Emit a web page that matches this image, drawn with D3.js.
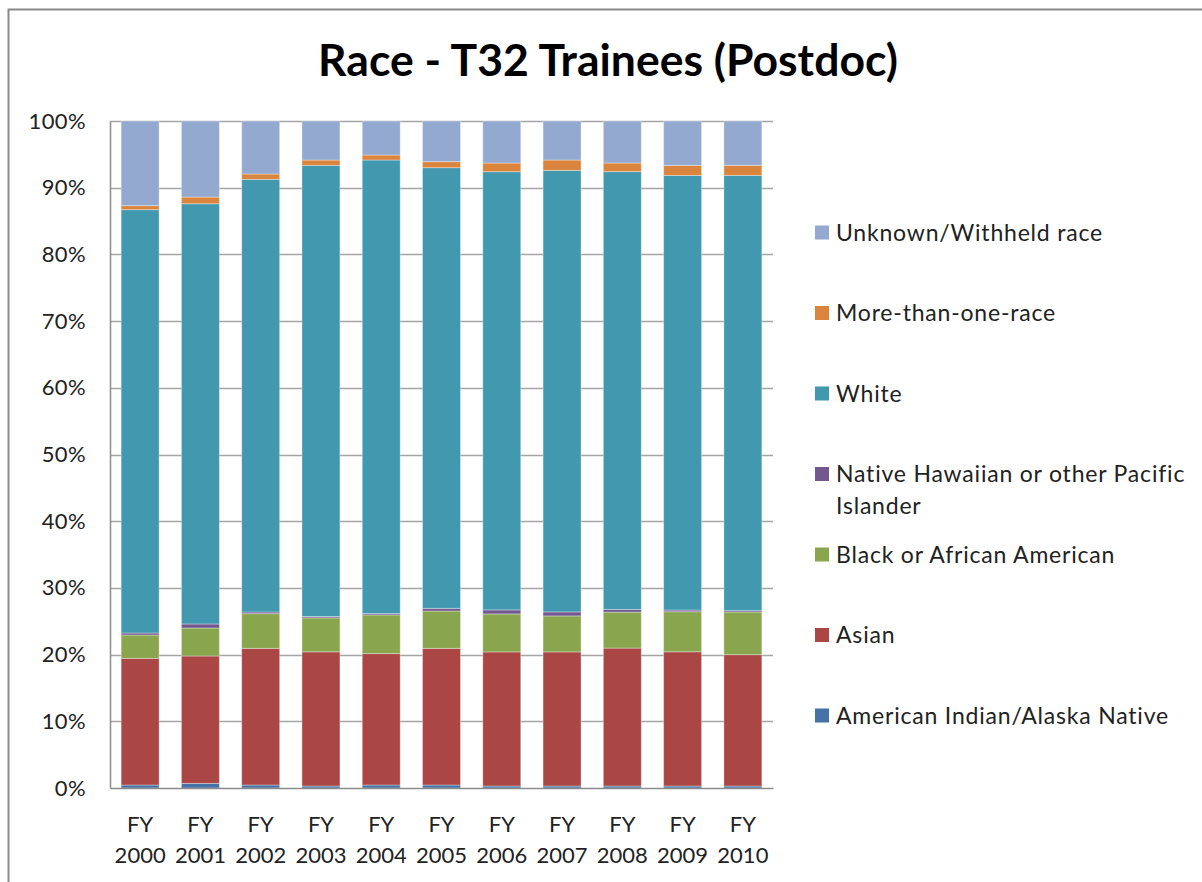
<!DOCTYPE html>
<html>
<head>
<meta charset="utf-8">
<script src="https://cdn.jsdelivr.net/npm/d3@7/dist/d3.min.js"></script>
<style>
  html, body { margin: 0; padding: 0; background: #fff; }
  svg { display: block; font-family: "Lato", "Open Sans", sans-serif; }
</style>
</head>
<body>
<svg id="chart" width="1202" height="882"></svg>
<script>
// Fiscal years on the x axis
const years = ["2000", "2001", "2002", "2003", "2004", "2005", "2006", "2007", "2008", "2009", "2010"];

// Share of postdoctoral T32 trainees by race (percent), bottom to top of each bar
const americanIndian = [0.45, 0.69, 0.45, 0.3, 0.45, 0.45, 0.3, 0.3, 0.3, 0.3, 0.3];
const asian          = [19.0, 19.1, 20.5, 20.1, 19.7, 20.5, 20.1, 20.1, 20.7, 20.1, 19.7];
const black          = [3.5, 4.2, 5.2, 5.1, 5.8, 5.6, 5.7, 5.4, 5.4, 6.0, 6.4];
const nativeHawaiian = [0.3, 0.6, 0.25, 0.2, 0.2, 0.4, 0.6, 0.6, 0.4, 0.25, 0.2];
const white          = [63.5, 63.0, 64.9, 67.6, 68.0, 66.1, 65.7, 66.2, 65.7, 65.1, 65.3];
const multiRace      = [0.6, 1.0, 0.8, 0.8, 0.75, 0.9, 1.3, 1.55, 1.3, 1.5, 1.5];
const unknownRace    = [12.7, 11.4, 7.95, 5.85, 5.1, 6.1, 6.3, 5.85, 6.3, 6.65, 6.65];

const seriesNames = [
  "American Indian/Alaska Native",
  "Asian",
  "Black or African American",
  "Native Hawaiian or other Pacific Islander",
  "White",
  "More-than-one-race",
  "Unknown/Withheld race"
];
const seriesValues = [americanIndian, asian, black, nativeHawaiian, white, multiRace, unknownRace];
const seriesColors = ["#4572A7", "#AA4643", "#89A54E", "#71588F", "#4198AF", "#DB843D", "#93A9CF"];

const yTicks = [0, 0.1, 0.2, 0.3, 0.4, 0.5, 0.6, 0.7, 0.8, 0.9, 1.0];

// Rows for d3.stack
const rows = years.map((yr, i) => {
  const r = { year: yr };
  seriesNames.forEach((n, k) => { r[n] = seriesValues[k][i]; });
  return r;
});

const svg = d3.select("#chart");

// Outer chart frame
svg.append("rect")
  .attr("x", 8.5).attr("y", 9.5)
  .attr("width", 1210).attr("height", 890)
  .attr("fill", "#fff")
  .attr("stroke", "#8a8a8a").attr("stroke-width", 2);

// Title
svg.append("text")
  .attr("x", 608).attr("y", 76)
  .attr("text-anchor", "middle")
  .attr("font-size", 44.5).attr("font-weight", 700)
  .attr("fill", "#000")
  .text("Race - T32 Trainees (Postdoc)");

const plot = { left: 110, right: 773, top: 121, bottom: 788 };

const x = d3.scaleBand()
  .domain(years)
  .range([plot.left, plot.right])
  .paddingInner(0.37)
  .paddingOuter(0.185);

const y = d3.scaleLinear().domain([0, 1]).range([plot.bottom, plot.top]);

// Horizontal gridlines
svg.append("g")
  .selectAll("line")
  .data(yTicks.filter(t => t > 0))
  .join("line")
  .attr("x1", plot.left).attr("x2", plot.right)
  .attr("y1", d => Math.round(y(d)) + 0.5).attr("y2", d => Math.round(y(d)) + 0.5)
  .attr("stroke", "#a5a5a5").attr("stroke-width", 1.5);

// Stacked bars, normalised to 100%
const stacked = d3.stack()
  .keys(seriesNames)
  .offset(d3.stackOffsetExpand)(rows);

svg.append("g")
  .selectAll("g")
  .data(stacked)
  .join("g")
  .attr("fill", (d, i) => seriesColors[i])
  .selectAll("rect")
  .data(d => d)
  .join("rect")
  .attr("x", d => x(d.data.year))
  .attr("width", x.bandwidth())
  .attr("y", d => y(d[1]))
  .attr("height", d => y(d[0]) - y(d[1]))
  .attr("stroke", "rgba(255,255,255,0.35)")
  .attr("stroke-width", 1);

// Y axis
const yAxis = d3.axisLeft(y)
  .tickValues(yTicks)
  .tickFormat(d3.format(".0%"))
  .tickSize(0)
  .tickPadding(24);

const yg = svg.append("g")
  .attr("transform", `translate(${plot.left},0)`)
  .call(yAxis);
yg.select(".domain").attr("stroke", "#8c8c8c").attr("stroke-width", 1.5);
yg.selectAll("text").attr("font-size", 22).attr("fill", "#222").attr("font-family", "Lato")
  .attr("letter-spacing", 0.4);

// X axis
const xAxis = d3.axisBottom(x).tickSize(0).tickFormat(() => "");
const xg = svg.append("g")
  .attr("transform", `translate(0,${plot.bottom})`)
  .call(xAxis);
xg.select(".domain").attr("stroke", "#8c8c8c").attr("stroke-width", 1.5);
xg.selectAll(".tick").each(function(d) {
  const t = d3.select(this).select("text")
    .attr("y", 0).attr("dy", null)
    .attr("font-size", 22).attr("fill", "#222").attr("font-family", "Lato");
  t.append("tspan").attr("x", 0).attr("y", 44).text("FY");
  t.append("tspan").attr("x", 0).attr("y", 75).text(d);
});

// Legend, top entry is the top of the stack
const legendItems = seriesNames.map((n, i) => ({ name: n, color: seriesColors[i] })).reverse();
const legendLines = {
  "Native Hawaiian or other Pacific Islander": ["Native Hawaiian or other Pacific", "Islander"]
};
const legend = svg.append("g");
legendItems.forEach((it, i) => {
  const cy = 232.5 + i * 80.5;
  legend.append("rect")
    .attr("x", 815).attr("y", cy - 7)
    .attr("width", 14).attr("height", 14)
    .attr("fill", it.color);
  const lines = legendLines[it.name] || [it.name];
  const txt = legend.append("text")
    .attr("font-size", 23).attr("letter-spacing", 0.8).attr("fill", "#222");
  lines.forEach((ln, j) => {
    txt.append("tspan")
      .attr("x", 836).attr("y", cy + 8 + j * 32)
      .text(ln);
  });
});
</script>
</body>
</html>
